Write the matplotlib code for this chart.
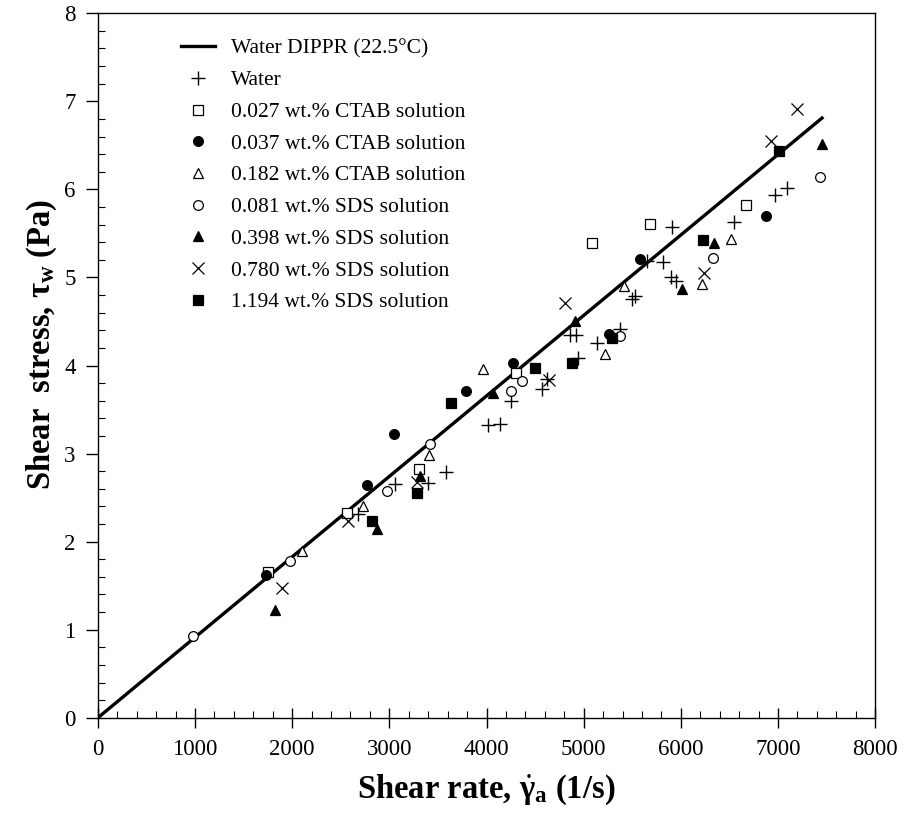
"""Plot wall shear stress against shear rate for water and surfactant solutions."""

from __future__ import annotations

import matplotlib

matplotlib.use("Agg")
import matplotlib.pyplot as plt
from matplotlib.ticker import MultipleLocator

# Water DIPPR reference line (22.5 C)
DIPPR_RATE = [0.0, 7453.0]
DIPPR_STRESS = [0.0, 6.81]

WATER_RATE = [2678, 3059, 3402, 3584, 4020, 4140, 4253, 4569, 4620, 4861, 4923, 4946,
              5135, 5369, 5496, 5523, 5650, 5815, 5908, 5900, 5950, 6543, 6972, 7092]
WATER_STRESS = [2.31, 2.66, 2.67, 2.79, 3.32, 3.34, 3.60, 3.73, 3.85, 4.35, 4.35, 4.09,
                4.26, 4.41, 4.75, 4.79, 5.19, 5.18, 5.57, 5.00, 4.96, 5.63, 5.94, 6.01]

CTAB_027_RATE = [1754, 2564, 3309, 4305, 5087, 5678, 6674]
CTAB_027_STRESS = [1.66, 2.33, 2.82, 3.92, 5.39, 5.61, 5.82]

CTAB_037_RATE = [1730, 2774, 3048, 3786, 4270, 5256, 5575, 6880]
CTAB_037_STRESS = [1.62, 2.64, 3.22, 3.71, 4.03, 4.36, 5.21, 5.70]

CTAB_182_RATE = [2098, 2729, 3412, 3961, 5221, 5417, 6217, 6519]
CTAB_182_STRESS = [1.89, 2.41, 2.98, 3.96, 4.13, 4.90, 4.93, 5.44]

SDS_081_RATE = [982, 1977, 2973, 3419, 4253, 4363, 5369, 6330, 7436]
SDS_081_STRESS = [0.93, 1.78, 2.57, 3.11, 3.71, 3.82, 4.34, 5.22, 6.14]

SDS_398_RATE = [1823, 2870, 3316, 4071, 4912, 6011, 6337, 7453]
SDS_398_STRESS = [1.22, 2.14, 2.75, 3.69, 4.50, 4.87, 5.39, 6.52]

SDS_780_RATE = [1892, 2578, 3282, 4648, 4809, 6234, 6928, 7195]
SDS_780_STRESS = [1.47, 2.24, 2.68, 3.83, 4.71, 5.05, 6.55, 6.91]

SDS_1194_RATE = [2818, 3282, 3635, 4501, 4878, 5290, 6227, 7006]
SDS_1194_STRESS = [2.23, 2.55, 3.57, 3.97, 4.03, 4.31, 5.43, 6.43]

X_TICKS = [0, 1000, 2000, 3000, 4000, 5000, 6000, 7000, 8000]
Y_TICKS = [0, 1, 2, 3, 4, 5, 6, 7, 8]


def build_figure():
    """Draw the shear stress vs. shear rate scatter with the DIPPR line."""
    plt.rcParams["font.family"] = ["Liberation Serif", "DejaVu Serif"]
    plt.rcParams["mathtext.fontset"] = "custom"
    plt.rcParams["mathtext.rm"] = "Liberation Serif"
    plt.rcParams["mathtext.it"] = "Liberation Serif:italic"
    plt.rcParams["mathtext.bf"] = "Liberation Serif:bold"

    fig = plt.figure(figsize=(9.06, 8.26), dpi=100)
    ax = fig.add_axes([0.108, 0.131, 0.858, 0.853])

    ax.plot(DIPPR_RATE, DIPPR_STRESS, color="black", lw=2.4, label="Water DIPPR (22.5\u00b0C)")

    series = [
        (WATER_RATE, WATER_STRESS, "+", "none", 10, 1.0, "Water"),
        (CTAB_027_RATE, CTAB_027_STRESS, "s", "white", 6.5, 0.9, "0.027 wt.% CTAB solution"),
        (CTAB_037_RATE, CTAB_037_STRESS, "o", "black", 7, 0.9, "0.037 wt.% CTAB solution"),
        (CTAB_182_RATE, CTAB_182_STRESS, "^", "white", 7.5, 0.9, "0.182 wt.% CTAB solution"),
        (SDS_081_RATE, SDS_081_STRESS, "o", "white", 7, 0.9, "0.081 wt.% SDS solution"),
        (SDS_398_RATE, SDS_398_STRESS, "^", "black", 7.5, 0.9, "0.398 wt.% SDS solution"),
        (SDS_780_RATE, SDS_780_STRESS, "x", "none", 8, 0.9, "0.780 wt.% SDS solution"),
        (SDS_1194_RATE, SDS_1194_STRESS, "s", "black", 6.5, 0.9, "1.194 wt.% SDS solution"),
    ]
    for rate, stress, marker, face, size, mew, label in series:
        ax.plot(rate, stress, linestyle="none", marker=marker, markersize=size,
                markerfacecolor=face, markeredgecolor="black", markeredgewidth=mew,
                label=label)

    ax.set_xlim(0, 8000)
    ax.set_ylim(0, 8)
    ax.set_xticks(X_TICKS)
    ax.set_yticks(Y_TICKS)
    ax.xaxis.set_minor_locator(MultipleLocator(200))
    ax.yaxis.set_minor_locator(MultipleLocator(0.2))
    ax.tick_params(axis="x", which="major", direction="inout", length=14, width=1,
                   labelsize=16.5, pad=8)
    ax.tick_params(axis="y", which="major", direction="out", length=9, width=1,
                   labelsize=16.5, pad=7)
    ax.tick_params(which="minor", direction="in", length=5, width=0.8)
    for spine in ax.spines.values():
        spine.set_linewidth(1.0)

    ax.set_xlabel(r"Shear rate, $\dot{\mathbf{\gamma}}_\mathbf{a}$ (1/s)",
                  fontsize=23.5, fontweight="bold", labelpad=9)
    ax.set_ylabel(r"Shear  stress, $\mathbf{\tau}_\mathbf{w}$ (Pa)",
                  fontsize=23.5, fontweight="bold")
    ax.yaxis.set_label_coords(-0.05, 0.53)

    ax.legend(loc="upper left", bbox_to_anchor=(0.107, 0.964), frameon=False,
              fontsize=15.5, handlelength=1.6, handletextpad=0.7, labelspacing=0.54,
              borderpad=0, borderaxespad=0, numpoints=1)
    return fig


def main() -> None:
    """Render and save the figure."""
    fig = build_figure()
    fig.savefig("out.png", dpi=100)
    plt.close(fig)


if __name__ == "__main__":
    main()
